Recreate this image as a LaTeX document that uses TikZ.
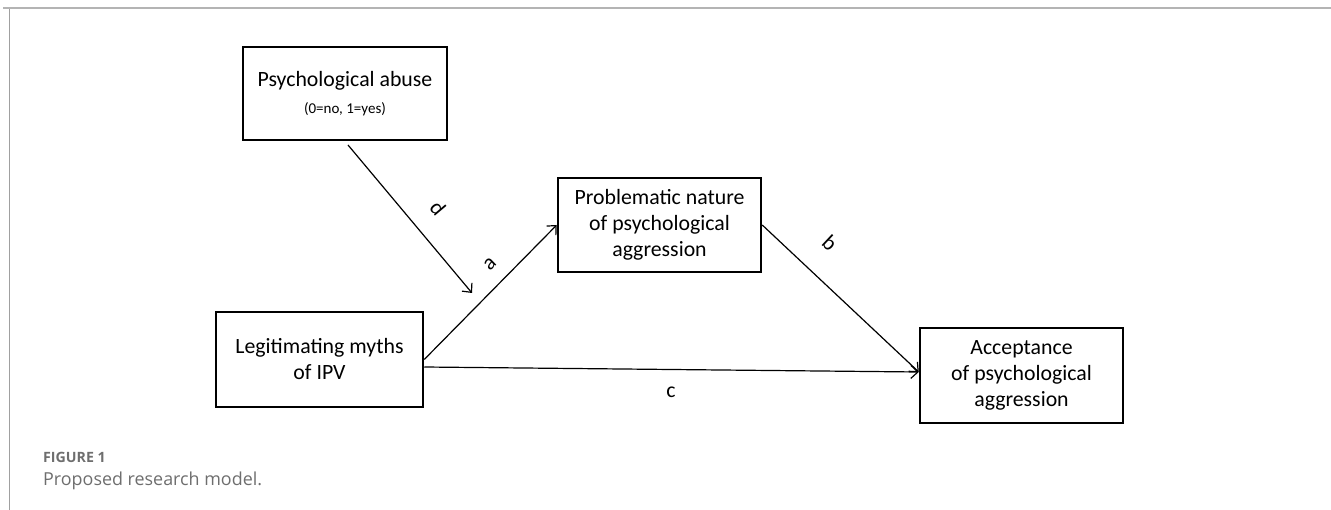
\documentclass[tikz,border=0pt]{standalone}
\usepackage{fontspec}
\setmainfont{Carlito}
\newfontfamily\capfont{Open Sans}
\usetikzlibrary{arrows.meta,calc}
\definecolor{capgray}{HTML}{6E6E6E}
\definecolor{rulegray}{HTML}{B4B4B4}
\definecolor{sidegray}{HTML}{A0A0A0}
\begin{document}
\begin{tikzpicture}[x=1pt,y=-1pt,
  box/.style={draw, line width=2.5pt, minimum width=203pt, minimum height=94pt,
    align=center, inner sep=0pt, font=\fontsize{21.8}{26}\selectfont},
  conn/.style={line width=1.2pt, -{Straight Barb[length=7pt,width=13pt,line width=1.2pt]}},
  lbl/.style={font=\fontsize{21.8}{26}\selectfont, inner sep=0pt}]
\useasboundingbox (0,0) rectangle (1331,510);
% frame rules
\coordinate (tl) at (3,8.5);
\coordinate (tr) at (1331,8.5);
\draw[rulegray, line width=2pt] (tl) -- (tr);
\coordinate (lt) at (9,9.5);
\coordinate (lb) at (9,510);
\draw[sidegray, line width=1pt] (lt) -- (lb);
% boxes
\node[box, minimum width=204pt, minimum height=93pt] (abuse) at (345,93.5)
  {Psychological abuse\\[1pt]{\fontsize{15}{18}\selectfont (0=no, 1=yes)}};
\node[box, minimum width=207pt, minimum height=95pt] (legit) at (319.5,359.5)
  {Legitimating myths\\of IPV};
\node[box] (prob) at (659.5,225)
  {Problematic nature\\of psychological\\aggression};
\node[box, minimum width=203pt, minimum height=95pt] (accept) at (1021.5,375.5)
  {Acceptance\\of psychological\\aggression};
% connectors
\coordinate (dstart) at (348,145);
\coordinate (dend) at (472,293);
\coordinate (cstart) at ($(legit.east)+(0,7.5)$);
\coordinate (aw) at ($(accept.west)+(0,-3.5)$);
\draw[conn] (dstart) -- (dend);
\draw[conn] (legit.east) -- (prob.west);
\draw[conn] (cstart) -- (aw);
\draw[conn] (prob.east) -- (aw);
% path labels
\node[lbl, rotate=-50] (ld) at (438,208) {d};
\node[lbl, rotate=44] (la) at (490,264) {a};
\node[lbl, rotate=-43] (lb2) at (830,243) {b};
\node[lbl] (lc) at (671,392) {c};
% caption
\node[anchor=base west, inner sep=0pt, text=capgray, font=\capfont\bfseries\fontsize{14.2}{17}\selectfont] (figlab) at (43,462) {FIGURE 1};
\node[anchor=base west, inner sep=0pt, text=capgray, font=\capfont\fontsize{17.9}{22}\selectfont] (figcap) at (43,485.5) {Proposed research model.};
\end{tikzpicture}
\end{document}
